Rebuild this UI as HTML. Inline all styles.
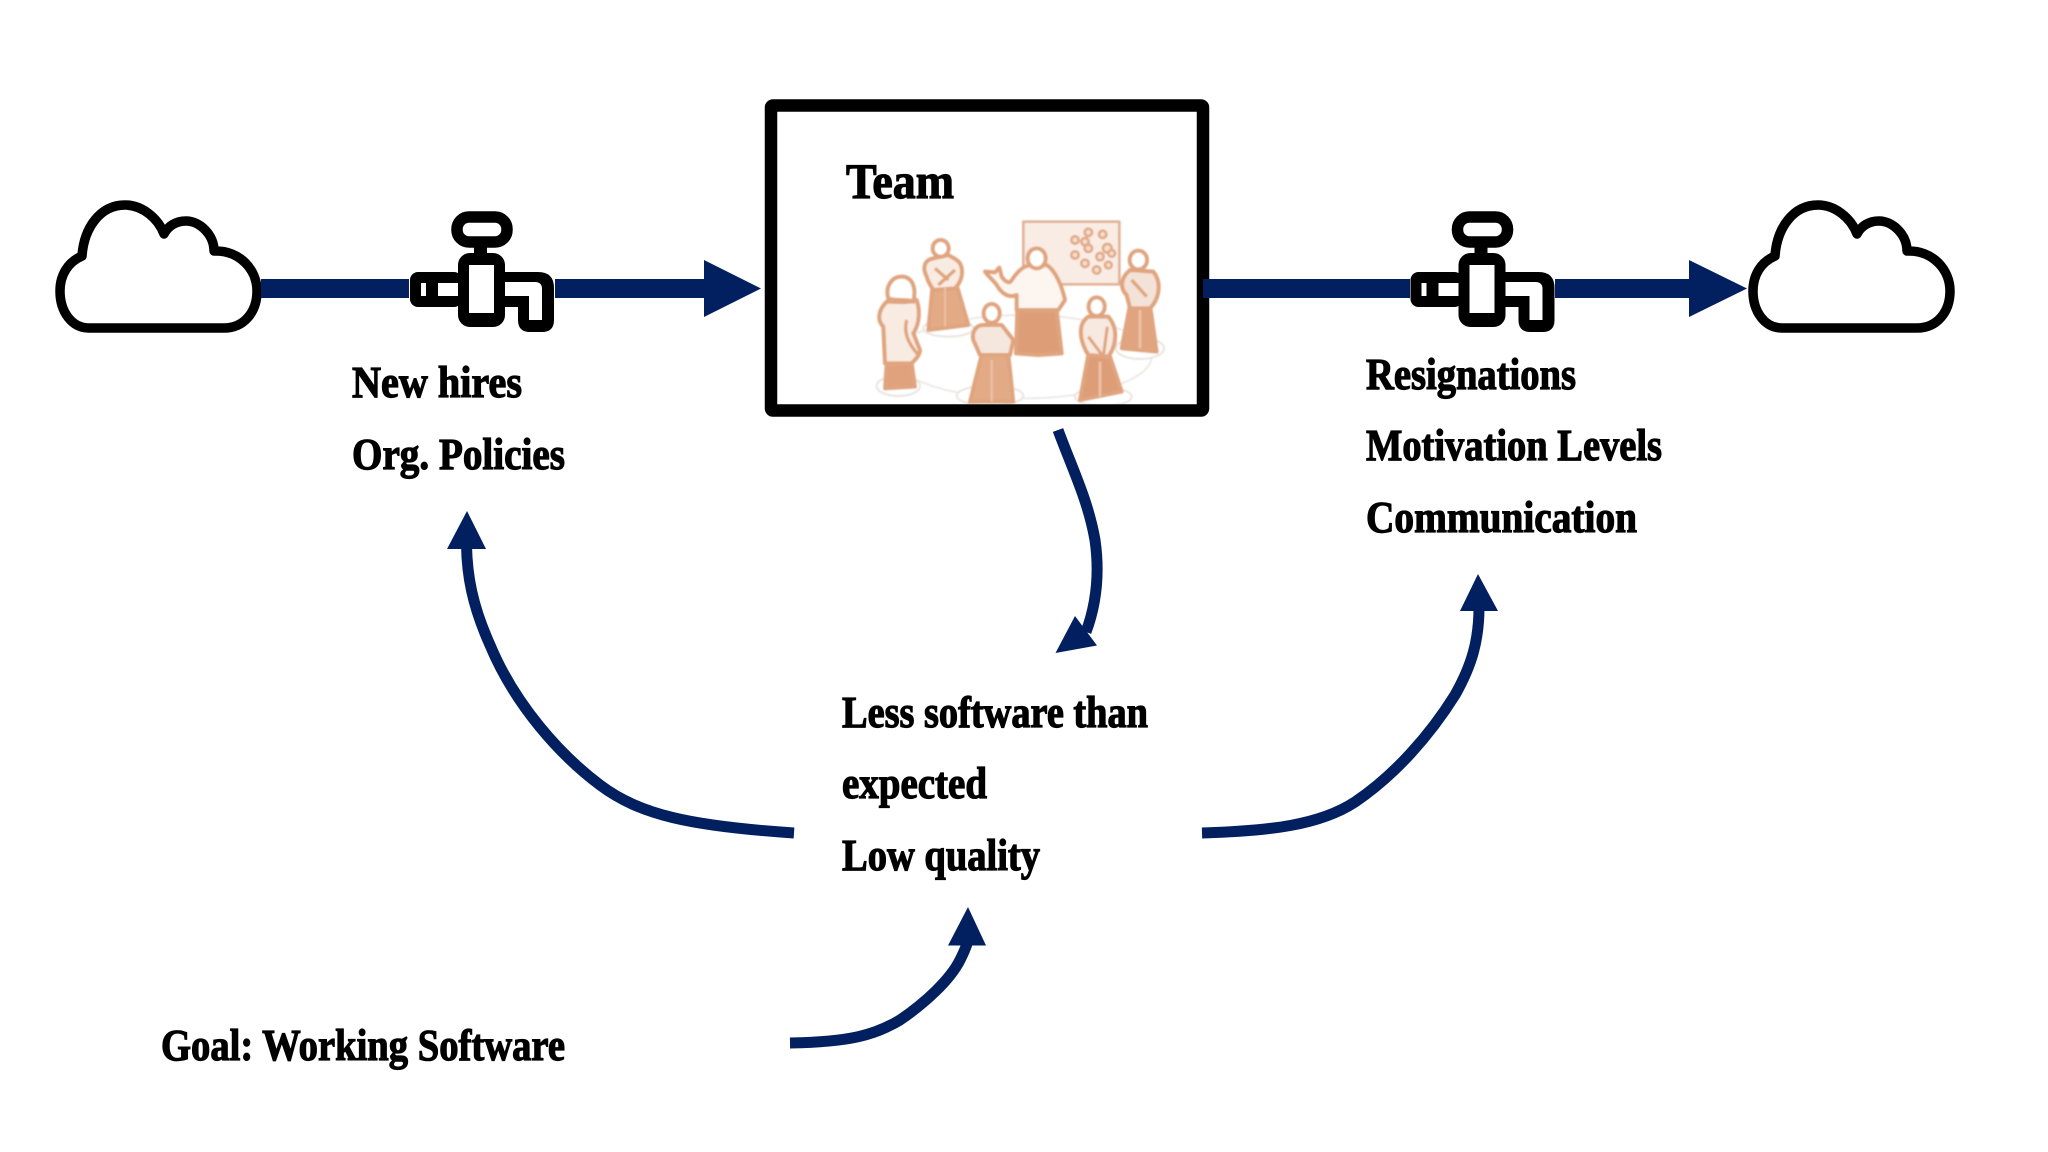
<!DOCTYPE html>
<html><head><meta charset="utf-8"><style>
html,body{margin:0;padding:0;background:#fff;width:2048px;height:1152px;overflow:hidden}
svg{display:block}
text{font-family:"Liberation Serif",serif;font-weight:bold;fill:#000;stroke:#000;stroke-width:1.2px;font-size:44px}
</style></head><body>
<svg width="2048" height="1152" viewBox="0 0 2048 1152">
<defs>
<filter id="soft" x="-5%" y="-5%" width="110%" height="110%"><feGaussianBlur stdDeviation="0.7"/></filter>
<clipPath id="inner"><rect x="777" y="112" width="420" height="292"/></clipPath>
<g id="cloud"><path d="M89 328 H224 C244 328 257 312 257 291 C257 270 240 250 214 251 C214 235 200 221 186 221 C176 221 168 226 164 234 C158 218 142 205 125 205 C100 205 84 228 82 256 C68 262 60 275 60 291 C60 312 72 328 89 328 Z" fill="#fff" stroke="#000" stroke-width="9.500" stroke-linejoin="round"/></g>
<g id="valve">
<rect x="474" y="244" width="13" height="12" fill="#000"/>
<rect x="457" y="217" width="50" height="25" rx="12" fill="#fff" stroke="#000" stroke-width="11.500"/>
<rect x="410" y="272" width="52" height="35" rx="8" fill="#000"/>
<path d="M498 272 H538 Q554 272 554 288 V320 Q554 332 542 332 H530 Q518 332 518 320 V307 H498Z" fill="#000"/>
<rect x="458" y="253" width="47" height="74" rx="12" fill="#000"/>
<rect x="421" y="283" width="5" height="13" fill="#fff"/>
<rect x="438" y="283" width="20" height="13" fill="#fff"/>
<rect x="469" y="265" width="25" height="48" fill="#fff"/>
<path d="M505 282 H535 Q542 282 542 289 V320 H529 V296 H505Z" fill="#fff"/>
</g>
</defs>

<!-- team illustration -->
<g clip-path="url(#inner)">
<g filter="url(#soft)">
 <g transform="translate(760 90) scale(.33333)" fill="none" stroke="#ebe6e2" stroke-width="5">
  <ellipse cx="790" cy="800" rx="385" ry="125"/>
 </g>
 <!-- left group -->
 <g transform="translate(870 230) scale(.33333)" stroke="#e0a47e" stroke-width="12" stroke-linejoin="round">
  <g fill="#fff" stroke="#e9e4df" stroke-width="6">
   <ellipse cx="85" cy="468" rx="65" ry="30"/>
   <ellipse cx="360" cy="497" rx="100" ry="30"/>
   <ellipse cx="235" cy="295" rx="75" ry="25"/>
  </g>
  <!-- crossed-arm man -->
  <path d="M187 175 L175 300 L295 285 L263 175 Z" fill="#e3aa86"/>
  <path d="M190 85 C165 90 155 110 170 140 C175 160 185 170 190 180 L255 175 C270 160 285 130 270 100 C260 85 240 80 235 75 Z" fill="#f8ebe2"/>
  <path d="M195 115 L235 150 M255 120 L205 165" fill="none" stroke-width="10"/>
  <path d="M225 170 V290" fill="none" stroke-width="5" stroke="#eec3a8"/>
  <ellipse cx="212" cy="55" rx="24" ry="25" fill="#fff"/>
  <!-- woman -->
  <path d="M50 405 L45 475 L135 470 L125 400 Z" fill="#e0a27d"/>
  <path d="M50 215 C25 240 20 270 40 290 L45 400 L125 400 C145 380 150 370 150 360 L130 310 C150 280 150 240 140 210 C110 220 80 215 50 215 Z" fill="#f8ebe2"/>
  <path d="M110 270 C100 310 115 340 145 375" fill="none" stroke-width="10"/>
  <path d="M55 205 C45 170 65 140 95 140 C125 140 140 170 130 215 C110 205 80 215 55 205 Z" fill="#fff"/>
  <!-- front man -->
  <path d="M335 375 L300 515 L430 515 L415 375 Z" fill="#e3aa86"/>
  <path d="M340 285 C315 285 305 310 310 330 L330 375 L420 375 L430 330 L395 285 Z" fill="#f5e7de"/>
  <path d="M365 390 V515" stroke="#eec3a8" stroke-width="6" fill="none"/>
  <ellipse cx="365" cy="250" rx="24" ry="28" fill="#fff"/>
 </g>
 <!-- right group -->
 <g transform="translate(1020 215) scale(.33333)" stroke="#e0a47e" stroke-width="12" stroke-linejoin="round">
  <rect x="10" y="20" width="288" height="188" fill="#f9ece4" stroke="#e0b295" stroke-width="8"/>
  <g fill="#f6dfcf" stroke="#e2aa88" stroke-width="8">
   <circle cx="205" cy="52" r="11"/><circle cx="248" cy="58" r="11"/><circle cx="165" cy="75" r="11"/>
   <circle cx="195" cy="80" r="11"/><circle cx="205" cy="100" r="11"/><circle cx="262" cy="100" r="13"/>
   <circle cx="165" cy="120" r="11"/><circle cx="240" cy="125" r="11"/><circle cx="195" cy="145" r="11"/>
   <circle cx="230" cy="165" r="11"/><circle cx="265" cy="150" r="10"/><circle cx="275" cy="115" r="10"/>
  </g>
  <g fill="#fff" stroke="#e9e4df" stroke-width="6">
   <ellipse cx="250" cy="545" rx="85" ry="28"/>
   <ellipse cx="360" cy="400" rx="72" ry="32"/>
  </g>
  <!-- presenter -->
  <path d="M-8 285 L110 285 L125 415 L55 420 L-12 415 Z" fill="#dd9e77"/>
  <path d="M-105 170 L-75 172 L-62 158 L-55 185 C-45 200 -35 205 -28 200 C-15 180 5 155 25 152 L80 150 C105 165 125 210 135 255 L115 285 L-10 285 L-10 240 C-35 250 -55 235 -70 210 C-80 195 -95 185 -105 170 Z" fill="#fdf5ef"/>
  <ellipse cx="50" cy="130" rx="27" ry="30" fill="#fff"/>
  <!-- back right -->
  <path d="M330 270 L305 400 L410 410 L390 270 Z" fill="#e0a580"/>
  <path d="M330 165 C300 190 300 220 320 240 L330 280 L390 280 C420 250 425 200 400 170 Z" fill="#f3e2d7"/>
  <path d="M335 195 L380 245" fill="none" stroke-width="10"/>
  <path d="M360 285 V400" fill="none" stroke="#eec3a8" stroke-width="8"/>
  <ellipse cx="355" cy="135" rx="26" ry="28" fill="#fff"/>
  <!-- front right -->
  <path d="M205 420 L180 555 L305 530 L270 425 Z" fill="#dd9e77"/>
  <path d="M205 305 C175 325 175 370 205 420 L265 425 C290 390 295 340 265 305 Z" fill="#f7e9e0"/>
  <path d="M205 365 L250 425 M262 335 L250 425" fill="none" stroke-width="9"/>
  <path d="M240 440 L240 545" fill="none" stroke="#eec3a8" stroke-width="8"/>
  <ellipse cx="230" cy="275" rx="24" ry="28" fill="#fff"/>
 </g>
</g>
</g>

<!-- team box border -->
<rect x="771" y="105.500" width="432" height="305" rx="2" fill="none" stroke="#000" stroke-width="12.500"/>

<!-- horizontal flow -->
<use href="#cloud"/>
<use href="#cloud" transform="translate(1693 0)"/>
<rect x="261" y="279" width="148" height="19" fill="#02205f"/>
<rect x="555" y="279" width="150" height="19" fill="#02205f"/>
<polygon points="704,260 761,288.500 704,317" fill="#02205f"/>
<use href="#valve"/>
<rect x="1203" y="279" width="207" height="19" fill="#02205f"/>
<rect x="1555" y="279" width="135" height="19" fill="#02205f"/>
<polygon points="1689,260 1747,288.500 1689,317" fill="#02205f"/>
<use href="#valve" transform="translate(1000.500 0)"/>

<!-- curved arrows -->
<g fill="none" stroke="#02205f" stroke-width="11">
 <path d="M794 833 C690 826 640 815 600 785 C560 755 515 705 490 645 C472 605 467 575 466.500 545"/>
 <path d="M1058 430 C1072 468 1088 500 1095 540 C1100 575 1096 605 1086 632"/>
 <path d="M1202 833 C1270 831 1320 825 1355 802 C1395 775 1430 735 1455 695 C1472 665 1479 640 1479 607"/>
 <path d="M790 1043 C850 1042 875 1035 900 1020 C925 1003 950 980 960 960 C965 950 967 945 968 940"/>
</g>
<g fill="#02205f">
 <polygon points="467,511 447,549 486,549"/>
 <polygon points="1055.500,653 1075,616 1097,645.500"/>
 <polygon points="1478,574 1460,611 1498,611"/>
 <polygon points="968,907 948,945.500 986,945.500"/>
</g>

<!-- labels -->
<text x="846" y="198" textLength="108" lengthAdjust="spacingAndGlyphs" style="font-size:50px">Team</text>
<text x="352" y="397" textLength="170" lengthAdjust="spacingAndGlyphs">New hires</text>
<text x="352" y="469" textLength="213" lengthAdjust="spacingAndGlyphs">Org. Policies</text>
<text x="1366" y="389" textLength="210" lengthAdjust="spacingAndGlyphs">Resignations</text>
<text x="1366" y="460" textLength="296" lengthAdjust="spacingAndGlyphs">Motivation Levels</text>
<text x="1366" y="532" textLength="271" lengthAdjust="spacingAndGlyphs">Communication</text>
<text x="842" y="727" textLength="306" lengthAdjust="spacingAndGlyphs">Less software than</text>
<text x="842" y="798" textLength="145" lengthAdjust="spacingAndGlyphs">expected</text>
<text x="842" y="870" textLength="198" lengthAdjust="spacingAndGlyphs">Low quality</text>
<text x="161" y="1060" textLength="404" lengthAdjust="spacingAndGlyphs">Goal: Working Software</text>
</svg>
</body></html>
